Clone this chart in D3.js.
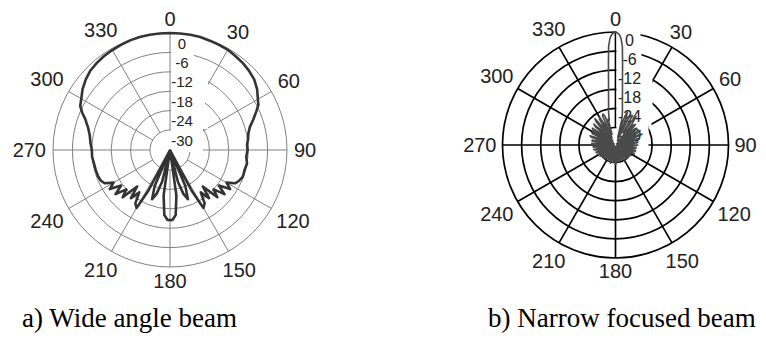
<!DOCTYPE html>
<html><head><meta charset="utf-8">
<script src="https://cdn.jsdelivr.net/npm/d3@7"></script>
<style>body{margin:0;background:#fff}svg{display:block}</style>
</head><body>
<svg id="chart" width="766" height="343"></svg>
<script>
// ---------- data ----------
const angleTicks = [0,30,60,90,120,150,180,210,240,270,300,330];
const dbTicks = [0,-6,-12,-18,-24,-30];
const captions = ["a) Wide angle beam", "b) Narrow focused beam"];

// wide angle beam: [angle deg, dB]
const wideBeam = [
 [0,0],[5,0],[10,0],[15,0],[20,-0.2],[25,-0.3],[30,-0.4],[35,-0.8],[40,-1.1],[45,-1.6],
 [50,-2.2],[55,-3.3],[60,-4.8],[63,-5.5],[66,-7.0],[70,-8.8],[74,-10.5],[78,-11.4],[82,-11.8],
 [86,-12.3],[90,-12.2],[95,-12.5],[100,-12.0],[105,-12.3],[110,-12.2],[114,-12.8],[117,-13.5],
 [120,-16],[123,-14],[126,-17.5],[129,-14.5],[132,-18],[135,-15.5],[138,-21],[141,-17],[144,-20],
 [147,-16.5],[150,-15.5],[152,-22],[154,-36],[157,-24],[160,-20],[163,-22],[166,-26],[169,-36],
 [172,-22],[175,-16],[178,-14.5],[180,-14.5],[182,-14.5],[185,-16],[188,-22],[191,-36],[194,-26],
 [197,-22],[200,-20],[203,-24],[206,-36],[208,-22],[210,-15.5],[213,-16.5],[216,-20],[219,-17],
 [222,-21],[225,-15.5],[228,-18],[231,-14.5],[234,-17.5],[237,-14],[240,-16],[243,-13.5],
 [246,-12.8],[250,-12.5],[255,-12.4],[260,-12.3],[265,-12.0],[270,-12.0],[275,-11.5],[280,-11.0],
 [285,-10.0],[290,-8.3],[293,-6.7],[296,-5.3],[300,-4.5],[305,-3.2],[310,-2.2],[315,-1.4],
 [320,-1.0],[325,-0.7],[330,-0.5],[335,-0.3],[340,-0.1],[345,0],[350,0],[355,0]
];

// narrow focused beam: [angle deg, dB]
const narrowBeam = [
 [0,0],[1,-0.3],[2,-0.8],[3,-2],[4,-4.5],[5,-10],[6,-14.5],[7,-17.5],[8,-19.8],[10,-23],[12,-25],
 [14,-27.5],[16,-33],[18,-26],[20,-24.5],[22,-27],[24,-34],[26,-26],[28,-25],[30,-24.8],[32,-31],
 [34,-26.5],[36,-24.5],[38,-27],[40,-34],[42,-27],[44,-26.5],[46,-29],[48,-35],[50,-27.5],[52,-27],
 [54,-30],[56,-35],[58,-27],[60,-26.5],[62,-29],[64,-35],[66,-27],[68,-26.5],[70,-30],[72,-35],
 [74,-28],[76,-28.5],[78,-31],[80,-35],[82,-28.5],[84,-28.5],[86,-31],[88,-35],[90,-28.5],[92,-29],
 [94,-32],[96,-35],[98,-29],[100,-29],[102,-32],[104,-35],[106,-29],[108,-29],[110,-32],[112,-35],
 [114,-29],[116,-29],[118,-32],[120,-35],[123,-29.5],[126,-30],[129,-35],[132,-30],[135,-30],
 [138,-35],[141,-30],[144,-30.5],[147,-35],[150,-30],[153,-30.5],[156,-35],[159,-30.5],[162,-30.5],
 [165,-35],[168,-30],[171,-30.5],[174,-35],[177,-29.8],[180,-29.5],[183,-35],[186,-30],[189,-30],
 [192,-35],[195,-29.6],[198,-30],[201,-35],[204,-30],[207,-30.5],[210,-35],[213,-30.5],[216,-30],
 [219,-35],[222,-30],[225,-30],[228,-35],[231,-30],[234,-29.5],[237,-35],[240,-29.5],[242,-29],
 [244,-32],[246,-35],[248,-29],[250,-29],[252,-32],[254,-35],[256,-29],[258,-28.5],[260,-31],
 [262,-35],[264,-28.5],[266,-28.5],[268,-31],[270,-35],[272,-28.5],[274,-28],[276,-31],[278,-35],
 [280,-28],[282,-28],[284,-31],[286,-35],[288,-27.5],[290,-27],[292,-30],[294,-35],[296,-27.5],
 [298,-27],[300,-29],[302,-35],[304,-27],[306,-26.5],[308,-30],[310,-35],[312,-27],[314,-26],
 [316,-29],[318,-34],[320,-26],[322,-25],[324,-28],[326,-34],[328,-26],[330,-25.5],[332,-28],
 [334,-33],[336,-25.5],[338,-25],[340,-26],[342,-32],[344,-27],[346,-27.5],[348,-25],[350,-23],
 [352,-19.8],[353,-17.5],[354,-14.5],[355,-10],[356,-4.5],[357,-2],[358,-0.8],[359,-0.3]
];

// ---------- drawing ----------
const svg = d3.select("#chart");
const SANS = "'Liberation Sans', Arial, Helvetica, sans-serif";
const rad = d3.scaleLinear().domain([0,360]).range([0, 2*Math.PI]);

function drawPolar(cfg, pattern) {
  const g = svg.append("g").attr("transform", `translate(${cfg.cx},${cfg.cy})`);
  const r = d3.scaleLinear().domain([-30,0]).range([cfg.rInner, cfg.rOuter]);
  const rr = v => Math.max(0, r(v));
  const gridG = g.append("g").attr("fill","none").attr("stroke", cfg.gridColor)
    .attr("stroke-width", cfg.gridWidth);
  gridG.selectAll("circle").data(dbTicks).join("circle").attr("r", d => r(d));
  gridG.selectAll("line").data(angleTicks).join("line")
    .attr("x1", d => Math.sin(rad(d))*cfg.rInner).attr("y1", d => -Math.cos(rad(d))*cfg.rInner)
    .attr("x2", d => Math.sin(rad(d))*cfg.rOuter).attr("y2", d => -Math.cos(rad(d))*cfg.rOuter);
  // white boxes behind dB labels
  const step = r(0) - r(-6);
  g.selectAll("rect.lb").data(dbTicks).join("rect").attr("class","lb")
    .attr("x", 1).attr("y", d => -r(d) - 2)
    .attr("width", (d,i) => cfg.boxW[i])
    .attr("height", (d,i) => i === dbTicks.length-1 ? r(d) + 4 : step + 1)
    .attr("fill", "#fff");
  g.selectAll("text.db").data(dbTicks).join("text").attr("class","db")
    .attr("x", cfg.dbX).attr("y", d => -r(d) + cfg.dbDy)
    .attr("text-anchor","middle").attr("dominant-baseline","central")
    .attr("font-family", SANS).attr("font-size", cfg.dbFs).attr("fill", "#222")
    .text(d => d);
  // pattern
  const line = d3.lineRadial().angle(d => rad(d[0])).radius(d => rr(d[1])).curve(d3.curveLinearClosed);
  g.append("path").datum(pattern).attr("d", line).attr("fill","none")
    .attr("stroke", cfg.curveColor).attr("stroke-width", cfg.curveWidth)
    .attr("stroke-linejoin","round");
  // angle labels
  angleTicks.forEach(t => {
    const th = rad(t);
    const txt = g.append("text").text(t).attr("font-family", SANS).attr("font-size", cfg.angFs)
      .attr("fill", "#222").attr("text-anchor","middle").attr("dominant-baseline","central");
    const w = txt.node().getComputedTextLength();
    const d = cfg.labelR + Math.abs(Math.sin(th))*w/2 + Math.abs(Math.cos(th))*0.36*cfg.angFs;
    txt.attr("x", d*Math.sin(th)).attr("y", -d*Math.cos(th));
  });
}

drawPolar({cx:170, cy:150, rOuter:117, rInner:20, gridColor:"#808080", gridWidth:1,
  boxW:[22,23,37,34,37,32], dbX:12, dbDy:10, dbFs:15, curveColor:"#333", curveWidth:2.6,
  angFs:20, labelR:124}, wideBeam);

drawPolar({cx:615.5, cy:145, rOuter:113, rInner:17.5, gridColor:"#000", gridWidth:1.7,
  boxW:[24,25,36,36,35,32], dbX:14, dbDy:8, dbFs:16, curveColor:"#4a4a4a", curveWidth:1.6,
  angFs:20, labelR:119}, narrowBeam);

svg.selectAll("text.cap").data(captions).join("text").attr("class","cap")
  .attr("x", (d,i) => [22,488][i]).attr("y", 327)
  .attr("font-family", "'Liberation Serif', 'Times New Roman', serif")
  .attr("font-size", 27).attr("fill", "#000").text(d => d);
</script>
</body></html>
